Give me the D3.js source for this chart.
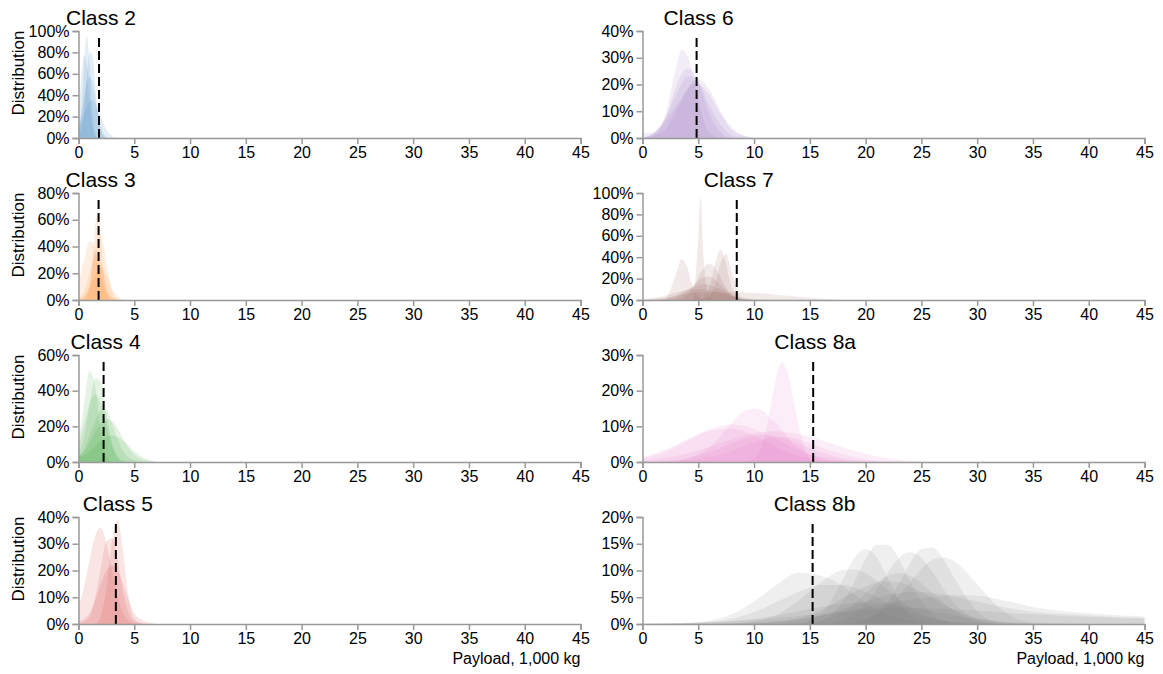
<!DOCTYPE html>
<html>
<head>
<meta charset="utf-8">
<script src="https://cdn.jsdelivr.net/npm/d3@7"></script>
<style>
  body { margin: 0; background: #fff; }
  svg text { font-family: "Liberation Sans", Arial, Helvetica, sans-serif; }
</style>
</head>
<body>
<svg id="chart" width="1163" height="674"></svg>
<script>
// payload distributions (percent) per truck class
const classNames = ["Class 2", "Class 3", "Class 4", "Class 5", "Class 6", "Class 7", "Class 8a", "Class 8b"];
const yMaxes = [100, 80, 60, 40, 40, 100, 30, 20];
const yTickValues = [
  [0, 20, 40, 60, 80, 100],
  [0, 20, 40, 60, 80],
  [0, 20, 40, 60],
  [0, 10, 20, 30, 40],
  [0, 10, 20, 30, 40],
  [0, 20, 40, 60, 80, 100],
  [0, 10, 20, 30],
  [0, 5, 10, 15, 20]
];
const xTickValues = [0, 5, 10, 15, 20, 25, 30, 35, 40, 45];
const meanPayload = [1.84, 1.8, 2.25, 3.35, 4.85, 8.45, 15.3, 15.25];

const class2Grid = [0, 0.25, 0.5, 0.75, 1, 1.25, 1.5, 1.75, 2, 2.5, 3, 3.5];
const class2Curves = [
  [4, 24, 67, 95, 67, 24, 4, 0, 0, 0, 0, 0],
  [2, 9, 27, 57, 80, 77, 50, 23, 7, 0, 0, 0],
  [23, 55, 78, 68, 35, 11, 2, 0, 0, 0, 0, 0],
  [11, 23, 38, 52, 58, 52, 38, 23, 11, 1, 0, 0],
  [10, 16, 23, 29, 34, 35, 32, 27, 20, 8, 2, 0]
];

const class3Grid = [0, 0.5, 1, 1.25, 1.5, 1.75, 2, 2.25, 2.5, 3, 3.5, 4];
const class3Curves = [
  [0, 0, 9, 29, 57, 66, 46, 20, 5, 0, 0, 0],
  [13, 30, 44, 43, 37, 29, 19, 11, 6, 1, 0, 0],
  [1, 7, 21, 30, 35, 34, 28, 20, 11, 2, 0, 0],
  [0, 2, 13, 25, 38, 48, 49, 41, 28, 7, 1, 0],
  [0, 3, 9, 14, 19, 23, 25, 23, 19, 9, 3, 0]
];

const class4Grid = [0, 0.5, 1, 1.5, 2, 2.5, 3, 3.5, 4, 5, 6, 7];
const class4Curves = [
  [10, 32, 51, 42, 17, 3, 0, 0, 0, 0, 0, 0],
  [4, 14, 32, 47, 45, 28, 11, 3, 0, 0, 0, 0],
  [3, 7, 15, 23, 29, 29, 22, 13, 6, 1, 0, 0],
  [3, 6, 11, 17, 22, 24, 23, 19, 13, 4, 1, 0],
  [2, 4, 6, 9, 12, 14, 15, 14, 12, 6, 2, 0],
  [9, 21, 33, 38, 33, 21, 9, 3, 1, 0, 0, 0]
];

const class5Grid = [0, 0.5, 1, 1.5, 2, 2.5, 3, 3.5, 4, 4.5, 5, 6, 7];
const class5Curves = [
  [6, 14, 24, 33, 36, 30, 20, 10, 4, 1, 0, 0, 0],
  [0, 0, 0, 0, 3, 13, 31, 39, 27, 10, 2, 0, 0],
  [0, 1, 3, 10, 21, 31, 32, 24, 12, 4, 1, 0, 0],
  [1, 2, 4, 9, 15, 20, 22, 20, 15, 9, 4, 1, 0]
];

const class6Grid = [0, 1, 2, 3, 3.5, 4, 4.5, 5, 6, 7, 8, 9, 10];
const class6Curves = [
  [0, 1, 8, 26, 33, 31, 24, 14, 2, 0, 0, 0, 0],
  [0, 2, 7, 19, 24, 26, 25, 21, 9, 2, 0, 0, 0],
  [0, 2, 7, 16, 20, 23, 23, 21, 12, 5, 1, 0, 0],
  [0, 1, 3, 10, 14, 18, 21, 22, 18, 10, 3, 1, 0],
  [2, 2, 6, 12, 15, 18, 20, 20, 16, 9, 4, 1, 0]
];

const class7Grid = [0, 1, 2, 3, 3.5, 4, 4.5, 5, 5.2, 5.5, 6, 6.5, 7, 7.5, 8, 9, 10, 12, 14, 16, 18];
const class7Curves = [
  [0, 0, 0, 0, 0, 0, 1, 60, 97, 35, 2, 0, 0, 0, 0, 0, 0, 0, 0, 0, 0],
  [0, 0, 1, 24, 38, 31, 13, 3, 1, 0, 0, 0, 0, 0, 0, 0, 0, 0, 0, 0, 0],
  [0, 0, 0, 0, 0, 0, 0, 0, 1, 2, 12, 33, 47, 33, 12, 0, 0, 0, 0, 0, 0],
  [0, 0, 0, 0, 0, 0, 0, 0, 0, 0, 3, 14, 34, 43, 26, 1, 0, 0, 0, 0, 0],
  [0, 0, 0, 0, 1, 5, 11, 21, 25, 30, 34, 30, 21, 11, 5, 0, 0, 0, 0, 0, 0],
  [0, 0, 0, 2, 5, 8, 13, 18, 20, 21, 22, 19, 14, 9, 5, 1, 0, 0, 0, 0, 0],
  [0, 0, 1, 4, 7, 10, 12, 14, 15, 15, 14, 12, 10, 7, 4, 1, 0, 0, 0, 0, 0],
  [0, 1, 2, 4, 5, 6, 7, 7, 7, 7, 7, 7, 7, 7, 7, 7, 6.5, 5, 3, 1.2, 0],
  [1, 2, 4, 7, 8, 9, 10, 10, 10, 10, 9, 8, 7, 5, 4, 2, 1, 0, 0, 0, 0]
];

const class8aGrid = [0, 2, 4, 6, 8, 9, 10, 11, 11.5, 12, 12.5, 13, 13.5, 14, 15, 16, 18, 20, 22, 25];
const class8aCurves = [
  [0, 0, 0, 0, 0, 0, 1, 8, 16, 24, 28, 25, 18, 10, 1, 0, 0, 0, 0, 0],
  [0, 0, 1, 4, 11, 14, 15, 14, 12, 11, 9, 7, 5, 4, 2, 1, 0, 0, 0, 0],
  [1.4, 3.4, 6.4, 9.2, 10.5, 10.2, 9.2, 7.9, 7.2, 6.4, 5.6, 4.8, 4.1, 3.4, 2.3, 1.4, 0.5, 0.1, 0, 0],
  [0.5, 1.1, 2.4, 4.2, 6.3, 7.3, 8.0, 8.4, 8.6, 8.6, 8.5, 8.3, 8.1, 7.8, 7.1, 6.1, 4.1, 2.3, 1.0, 0.2],
  [0.1, 0.3, 1, 2.7, 5.2, 6.4, 7.2, 7.5, 7.4, 7.2, 6.8, 6.4, 5.8, 5.2, 3.9, 2.7, 1, 0.3, 0.1, 0],
  [1, 2.8, 5.8, 8.7, 9.4, 8.7, 7.4, 5.8, 5, 4.1, 3.4, 2.8, 2.2, 1.7, 1, 0.5, 0.1, 0, 0, 0],
  [0, 0.1, 0.4, 1.3, 3.0, 4.3, 5.5, 6.4, 6.8, 7.0, 7.0, 6.9, 6.7, 6.3, 5.3, 4.1, 2.1, 0.8, 0.2, 0]
];

const class8bGrid = [0, 3, 6, 8, 10, 12, 14, 16, 18, 19, 20, 21, 22, 23, 24, 25, 26, 27, 28, 30, 32, 35, 40, 45];
const class8bCurves = [
  [0.1, 0.1, 0.6, 1.8, 4.2, 7.3, 9.6, 9.0, 7.0, 5.5, 4.0, 2.7, 1.7, 1.1, 0.6, 0.3, 0.2, 0.1, 0, 0, 0, 0, 0, 0],
  [0, 0, 0, 0.1, 0.5, 1.7, 4.4, 7.8, 10.1, 10.2, 9.5, 8.1, 6.4, 4.7, 3.1, 1.9, 1.1, 0.6, 0.3, 0, 0, 0, 0, 0],
  [0, 0, 0, 0, 0, 0, 0.2, 1.9, 8.5, 12.4, 14, 12.4, 8.5, 4.5, 1.9, 0.6, 0.2, 0, 0, 0, 0, 0, 0, 0],
  [0, 0, 0, 0, 0, 0, 0, 0.7, 4.3, 7.9, 12.1, 14.8, 14.8, 12.1, 7.9, 4.3, 1.9, 0.7, 0.2, 0, 0, 0, 0, 0],
  [0, 0, 0, 0, 0, 0, 0, 0.1, 0.8, 1.8, 3.7, 6.5, 9.7, 12.4, 13.4, 12.4, 9.7, 6.5, 3.7, 0.8, 0.1, 0, 0, 0],
  [0, 0, 0, 0, 0, 0, 0, 0, 0.1, 0.2, 0.8, 2.0, 4.2, 7.6, 11.4, 14.0, 14.3, 12.0, 8.4, 2.4, 0.3, 0, 0, 0],
  [0, 0, 0, 0, 0, 0, 0, 0, 0.2, 0.4, 0.9, 1.8, 3.3, 5.4, 7.8, 10.3, 12.0, 12.5, 11.7, 7.4, 3.0, 0.3, 0, 0],
  [0, 0.1, 0.4, 1.0, 2.2, 4.1, 6.0, 7.3, 7.3, 6.8, 6.0, 5.1, 4.1, 3.1, 2.2, 1.5, 1.0, 0.6, 0.4, 0.2, 0, 0, 0, 0],
  [0, 0, 0, 0.1, 0.3, 0.6, 1.0, 1.6, 2.3, 2.7, 3.1, 3.5, 3.9, 4.3, 4.6, 4.9, 5.1, 5.3, 5.4, 5.3, 4.6, 3.2, 2.0, 1.4],
  [0, 0, 0, 0, 0.1, 0.4, 1.1, 2.6, 4.9, 6.0, 7.0, 7.8, 8.0, 7.8, 7.0, 6.0, 4.9, 3.7, 2.6, 1.1, 0.4, 0, 0, 0],
  [0, 0, 0, 0.1, 0.1, 0.3, 0.8, 1.6, 2.9, 3.5, 4.2, 4.8, 5.4, 5.8, 6.0, 6.0, 5.8, 5.5, 5.1, 4.2, 3.3, 2.3, 1.6, 1.1],
  [0, 0, 0, 0, 0, 0, 0.1, 0.6, 2.4, 3.9, 5.8, 7.6, 9.0, 9.5, 9.0, 7.6, 5.8, 3.9, 2.4, 0.6, 0.1, 0, 0, 0],
  [0, 0.1, 0.3, 0.5, 1.0, 1.6, 2.4, 3.2, 3.8, 3.9, 4.0, 3.9, 3.8, 3.6, 3.2, 2.8, 2.4, 2.0, 1.6, 1.0, 0.5, 0.2, 0, 0],
  [0.1, 0.2, 0.3, 0.5, 0.8, 1.1, 1.5, 1.9, 2.3, 2.5, 2.7, 2.8, 2.9, 3.0, 3.0, 3.0, 2.9, 2.8, 2.7, 2.5, 2.2, 1.8, 1.3, 1.0]
];

const grids = [class2Grid, class3Grid, class4Grid, class5Grid, class6Grid, class7Grid, class8aGrid, class8bGrid];
const curveSets = [class2Curves, class3Curves, class4Curves, class5Curves, class6Curves, class7Curves, class8aCurves, class8bCurves];

const panelWidth = 502;
const panelHeight = 107;
const colLeft = [78.5, 642.5];
const rowTop = [31, 193, 355, 517];

const svg = d3.select("#chart");

const panels = classNames.map((name, i) => ({
  name,
  grid: grids[i],
  curves: curveSets[i],
  yMax: yMaxes[i],
  ticks: yTickValues[i],
  mean: meanPayload[i],
  color: d3.schemeCategory10[i],
  col: Math.floor(i / 4),
  row: i % 4
}));

panels.forEach((p) => {
  const left = colLeft[p.col];
  const top = rowTop[p.row];
  const x = d3.scaleLinear().domain([0, 45]).range([left, left + panelWidth]);
  const y = d3.scaleLinear().domain([0, p.yMax]).range([top + panelHeight, top]);

  const g = svg.append("g").attr("class", "panel");

  const area = d3
    .area()
    .x((d) => x(d[0]))
    .y0(y(0))
    .y1((d) => y(d[1]))
    .curve(d3.curveMonotoneX);

  g.selectAll("path.curve")
    .data(p.curves)
    .join("path")
    .attr("class", "curve")
    .attr("d", (c) => area(c.map((v, j) => [p.grid[j], v])))
    .attr("fill", p.color)
    .attr("fill-opacity", 0.12);

  // average payload
  g.append("line")
    .attr("x1", x(p.mean))
    .attr("x2", x(p.mean))
    .attr("y1", y(0))
    .attr("y2", y(p.yMax * 0.95))
    .attr("stroke", "#000")
    .attr("stroke-width", 2)
    .attr("stroke-dasharray", "9,4");

  const xAxis = g
    .append("g")
    .attr("transform", `translate(0, ${top + panelHeight})`)
    .call(d3.axisBottom(x).tickValues(xTickValues));

  const yAxis = g
    .append("g")
    .attr("transform", `translate(${left}, 0)`)
    .call(d3.axisLeft(y).tickValues(p.ticks).tickFormat((d) => d + "%"));

  [xAxis, yAxis].forEach((a) => {
    a.selectAll(".domain, .tick line").attr("stroke", "#999").attr("stroke-width", 1.5);
    a.selectAll("text").attr("fill", "#000").style("font-size", "16px");
  });

  g.append("text")
    .attr("x", x(p.mean) + 2)
    .attr("y", top - 6)
    .attr("text-anchor", "middle")
    .style("font-size", "21px")
    .text(p.name);

  if (p.col === 0) {
    g.append("text")
      .attr("transform", `translate(24, ${top + 42}) rotate(-90)`)
      .attr("text-anchor", "middle")
      .style("font-size", "17px")
      .text("Distribution");
  }

  if (p.row === 3) {
    g.append("text")
      .attr("x", left + panelWidth)
      .attr("y", top + panelHeight + 40)
      .attr("text-anchor", "end")
      .style("font-size", "16px")
      .text("Payload, 1,000 kg");
  }
});
</script>
</body>
</html>
